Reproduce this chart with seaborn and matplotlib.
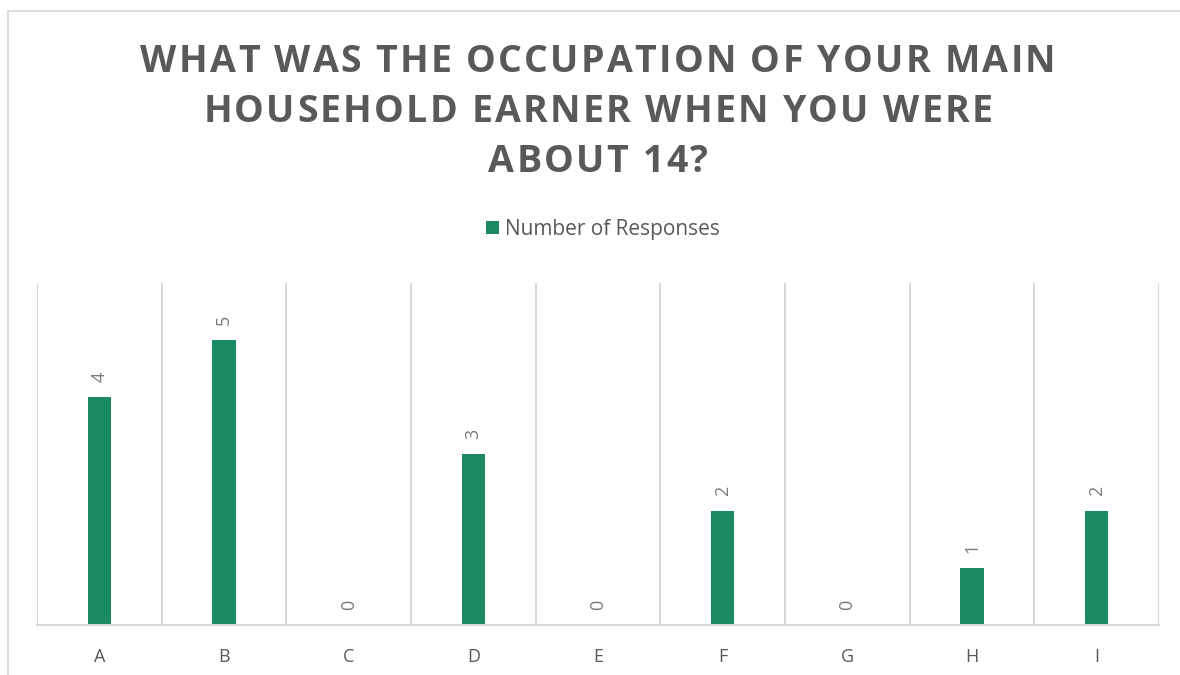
import matplotlib
matplotlib.use("Agg")
import matplotlib.pyplot as plt
import seaborn as sns
import pandas as pd
from matplotlib.patches import Patch, Rectangle

categories = ["A", "B", "C", "D", "E", "F", "G", "H", "I"]
responses = [4, 5, 0, 3, 0, 2, 0, 1, 2]
series_name = "Number of Responses"
title_lines = ["WHAT WAS THE OCCUPATION OF YOUR MAIN",
               "HOUSEHOLD EARNER WHEN YOU WERE",
               "ABOUT 14?"]

BAR = "#1A8B61"
GRID = "#D9D9D9"
TEXT = "#595959"
LABEL = "#7A7A7A"
FONT = "Open Sans"

sns.set_theme(style="white")
plt.rcParams['font.family'] = [FONT, 'DejaVu Sans']

W, H = 1180, 675
fig = plt.figure(figsize=(W / 100, H / 100), dpi=100)
fig.patch.set_facecolor("white")

# chart frame (cut off on right and bottom)
fig.patches.append(Rectangle((8 / W, -0.1), 1.2, 1 - 11 / H + 0.1,
                             transform=fig.transFigure, fill=False,
                             edgecolor=GRID, linewidth=1.3))

ax = fig.add_axes([37 / W, 50 / H, (1159 - 37) / W, (625 - 283) / H])
df = pd.DataFrame({"cat": categories, "val": responses})
sns.barplot(data=df, x="cat", y="val", color=BAR, width=0.185,
            saturation=1, ax=ax, edgecolor="none")

ax.set_xlim(-0.5, len(categories) - 0.5)
ax.set_ylim(0, 6)
ax.set_xlabel("")
ax.set_ylabel("")
ax.set_yticks([])
ax.set_xticks(range(len(categories)))
ax.set_xticklabels(categories)
ax.set_xticks([i - 0.5 for i in range(len(categories) + 1)], minor=True)
ax.grid(which="minor", axis="x", color=GRID, linewidth=1.5)
ax.grid(which="major", visible=False)
ax.tick_params(axis="x", which="both", length=0, pad=16.5, labelsize=13,
               labelcolor=TEXT)
for s in ["top", "left", "right"]:
    ax.spines[s].set_visible(False)
ax.spines["bottom"].set_color(GRID)
ax.spines["bottom"].set_linewidth(1.5)
ax.set_axisbelow(True)

for i, v in enumerate(responses):
    ax.annotate(str(v), xy=(i, v), xytext=(0, 10.5), textcoords="offset points",
                rotation=90, ha="center", va="bottom", fontsize=13,
                color=LABEL)

# legend
fig.legend(handles=[Patch(facecolor=BAR, edgecolor="none", label=series_name)],
           loc="center", bbox_to_anchor=(603 / W, 1 - 229.5 / H), frameon=False,
           fontsize=15, handlelength=0.62, handleheight=0.62,
           handletextpad=0.3, labelcolor=TEXT)

# letter-spaced title
renderer = fig.canvas.get_renderer()
TSIZE = 27


def text_width(s):
    t = fig.text(0, 0, s, fontsize=TSIZE, fontweight="bold")
    w = t.get_window_extent(renderer).width
    t.remove()
    return w


base = text_width("HH")
adv_cache = {}


def advance(ch):
    if ch not in adv_cache:
        adv_cache[ch] = text_width("H" + ch + "H") - base
    return adv_cache[ch]


target_first = 915.0
nat = sum(advance(c) for c in title_lines[0])
spacing = (target_first - nat) / (len(title_lines[0]) - 1)
cx = 598.0
baselines = [72, 122, 172]
for line, yb in zip(title_lines, baselines):
    advs = [advance(c) for c in line]
    total = sum(advs) + spacing * (len(line) - 1)
    x = cx - total / 2
    for ch, a in zip(line, advs):
        if ch != " ":
            fig.text(x / W, 1 - yb / H, ch, fontsize=TSIZE, fontweight="bold",
                     color=TEXT, ha="left", va="baseline")
        x += a + spacing

fig.savefig("out.png", dpi=100)
